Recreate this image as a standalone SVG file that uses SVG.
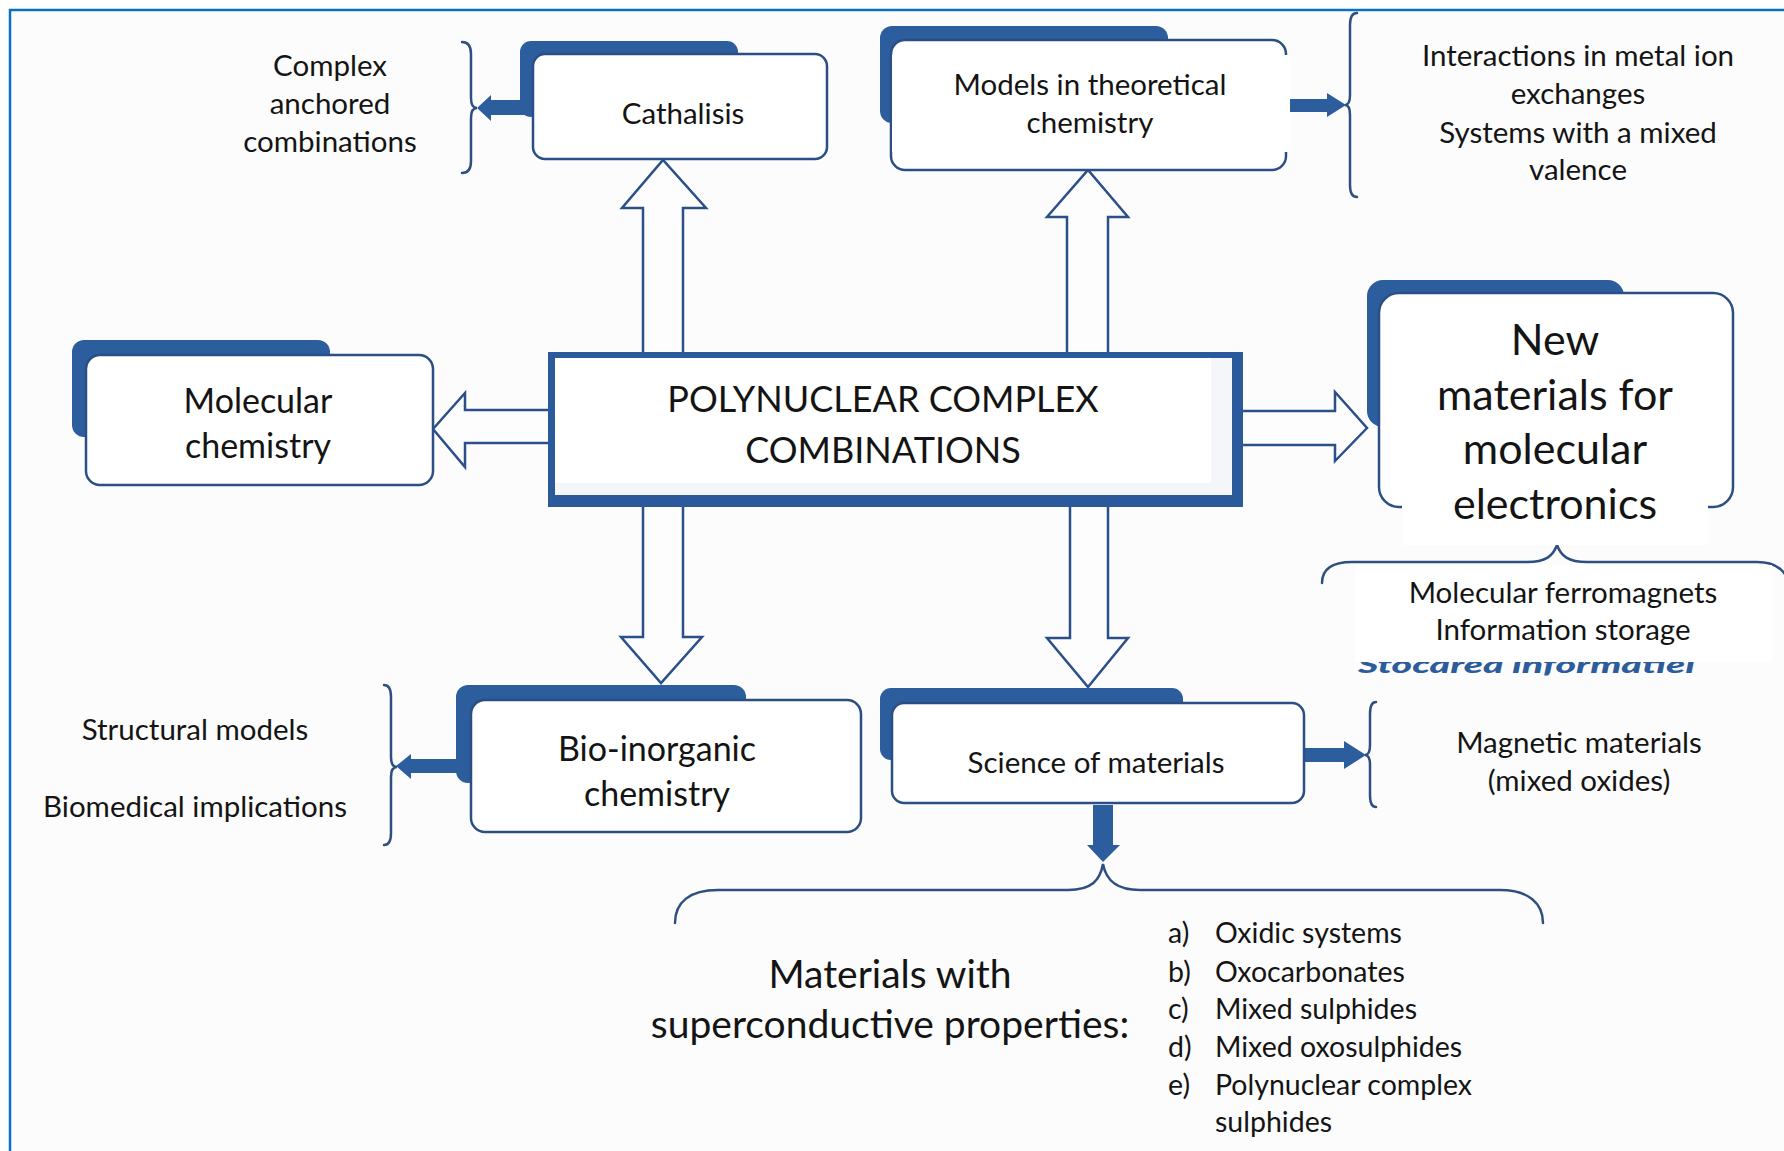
<svg xmlns="http://www.w3.org/2000/svg" width="1784" height="1151" viewBox="0 0 1784 1151">
<style>
.t{font-family:Lato,"Liberation Sans",sans-serif;fill:#141414;text-anchor:middle}
.s{font-size:29.5px}
.m{font-size:34px}
.box{fill:#fff;stroke:#2b4f84;stroke-width:2.5}
.sh{fill:#2c5d9c}
.ov{fill:#fff}
.hol{fill:#fdfdfe;stroke:#2b5089;stroke-width:2.5;stroke-linejoin:miter}
.sol{fill:#2c5d9c}
.br{fill:none;stroke:#2e4f80;stroke-width:2.5;stroke-linecap:round}
</style>
<rect x="0" y="0" width="1784" height="1151" fill="#fff"/>
<rect x="10" y="10" width="1774" height="1141" fill="#fcfcfd"/>
<path d="M10,1151 V10 H1784" fill="none" stroke="#0b6fc4" stroke-width="2.5"/>

<g id="connectors">
  <path class="hol" d="M643,353 V208 H622 L663,160 L706,208 H683 V353"/>
  <path class="hol" d="M1067,353 V217 H1047 L1088,170 L1128,217 H1108 V353"/>
  <path class="hol" d="M643,506 V637 H621 L661,683 L702,637 H683 V506"/>
  <path class="hol" d="M1070,506 V638 H1047 L1088,687 L1128,638 H1108 V506"/>
  <path class="hol" d="M549,410 H465 V393 L433,429 L465,467 V443 H549"/>
  <path class="hol" d="M1242,411 H1335 V392 L1367,428 L1335,461 V445 H1242"/>
  <path class="sol" d="M534,100 H491 V95 L477,108 L491,121 V115 H534 Z"/>
  <path class="sol" d="M1286,99 H1327 V93 L1346,105 L1327,117 V112 H1286 Z"/>
  <path class="sol" d="M472,759 H411 V754 L396,766 L411,779 V773 H472 Z"/>
  <path class="sol" d="M1304,748 H1344 V741 L1366,755 L1344,769 V762 H1304 Z"/>
  <path class="sol" d="M1093,805 V845 H1087 L1103,862 L1120,845 H1113 V805 Z"/>
  <path class="br" d="M462,42 Q471,42 471,54 V98 Q471,108 477,108 Q471,108 471,118 V161 Q471,173 462,173"/>
  <path class="br" d="M1357,13 Q1350,13 1350,25 V95 Q1350,105 1345,105 Q1350,105 1350,115 V185 Q1350,197 1357,197"/>
  <path class="br" d="M384,685 Q391,685 391,697 V757 Q391,767 397,767 Q391,767 391,777 V833 Q391,845 384,845"/>
  <path class="br" d="M1376,702 Q1370,702 1370,714 V745 Q1370,755 1365,755 Q1370,755 1370,765 V795 Q1370,807 1376,807"/>
  <path class="br" d="M1322,583 C1322,569 1332,562 1352,562 L1527,562 C1546,562 1553,556 1557,545 C1561,556 1568,562 1587,562 L1757,562 C1772,562 1781,567 1786,576"/>
  <path class="br" d="M675,923 C675,902 690,890 718,890 L1068,890 C1092,890 1100,880 1103,864 C1106,880 1116,890 1140,890 L1500,890 C1528,890 1543,903 1543,923"/>
</g>

<g id="cathalisis">
  <rect class="sh" x="520" y="41" width="218" height="76" rx="11"/>
  <rect class="box" x="533" y="54" width="294" height="105" rx="12"/>
  <text class="t s" x="683" y="124">Cathalisis</text>
</g>

<g id="complex-anchored">
  <text class="t s" x="330" y="76">Complex</text>
  <text class="t s" x="330" y="114">anchored</text>
  <text class="t s" x="330" y="152">combinations</text>
</g>

<g id="models">
  <rect class="sh" x="880" y="26" width="288" height="97" rx="12"/>
  <rect class="box" x="891" y="40" width="395" height="130" rx="14"/>
  <rect class="ov" x="892" y="55" width="398" height="97"/>
  <text class="t s" x="1090" y="95">Models in theoretical</text>
  <text class="t s" x="1090" y="133">chemistry</text>
</g>

<g id="interactions">
  <text class="t s" x="1578" y="66">Interactions in metal ion</text>
  <text class="t s" x="1578" y="104">exchanges</text>
  <text class="t s" x="1578" y="143">Systems with a mixed</text>
  <text class="t s" x="1578" y="180">valence</text>
</g>

<g id="central">
  <rect x="548" y="352" width="695" height="155" fill="#2a5a9b"/>
  <rect x="555" y="358" width="677" height="137" fill="#f4f6f9"/>
  <rect class="ov" x="555" y="358" width="656" height="125"/>
  <text class="t" x="883" y="412" font-size="36">POLYNUCLEAR COMPLEX</text>
  <text class="t" x="883" y="463" font-size="36">COMBINATIONS</text>
</g>

<g id="molecular-chemistry">
  <rect class="sh" x="72" y="340" width="258" height="97" rx="12"/>
  <rect class="box" x="86" y="355" width="347" height="130" rx="14"/>
  <text class="t m" x="258" y="413">Molecular</text>
  <text class="t m" x="258" y="458">chemistry</text>
</g>

<g id="new-materials">
  <rect class="sh" x="1367" y="280" width="257" height="147" rx="16"/>
  <rect class="box" x="1379" y="293" width="354" height="214" rx="20"/>
  <rect class="ov" x="1402" y="303" width="306" height="242"/>
  <text class="t" x="1555" y="355" font-size="43">New</text>
  <text class="t" x="1555" y="410" font-size="43">materials for</text>
  <text class="t" x="1555" y="464" font-size="43">molecular</text>
  <text class="t" x="1555" y="519" font-size="43">electronics</text>
</g>

<g id="ferromagnets">
  <text x="1358" y="673" font-family="Lato,'Liberation Sans',sans-serif" font-size="22" font-weight="900" font-style="italic" fill="#2c5c9c" textLength="337" lengthAdjust="spacingAndGlyphs">Stocarea informatiei</text>
  <rect class="ov" x="1355" y="565" width="417" height="97"/>
  <text class="t s" x="1563" y="603">Molecular ferromagnets</text>
  <text class="t s" x="1563" y="640">Information storage</text>
</g>

<g id="bio-inorganic">
  <rect class="sh" x="456" y="685" width="290" height="98" rx="12"/>
  <rect class="box" x="471" y="700" width="390" height="132" rx="14"/>
  <text class="t m" x="657" y="761">Bio-inorganic</text>
  <text class="t m" x="657" y="806">chemistry</text>
</g>

<g id="structural">
  <text class="t s" x="195" y="740">Structural models</text>
  <text class="t s" x="195" y="817">Biomedical implications</text>
</g>

<g id="science-materials">
  <rect class="sh" x="880" y="688" width="303" height="72" rx="11"/>
  <rect class="box" x="892" y="703" width="412" height="100" rx="12"/>
  <text class="t s" x="1096" y="773">Science of materials</text>
</g>

<g id="magnetic">
  <text class="t s" x="1579" y="753">Magnetic materials</text>
  <text class="t s" x="1579" y="791">(mixed oxides)</text>
</g>

<g id="superconductive">
  <text class="t" x="890" y="988" font-size="39">Materials with</text>
  <text class="t" x="890" y="1038" font-size="39">superconductive properties:</text>
</g>

<g id="list" font-family="Lato,'Liberation Sans',sans-serif" font-size="28.5" fill="#141414">
  <text x="1168" y="943">a)</text><text x="1215" y="943">Oxidic systems</text>
  <text x="1168" y="982">b)</text><text x="1215" y="982">Oxocarbonates</text>
  <text x="1168" y="1019">c)</text><text x="1215" y="1019">Mixed sulphides</text>
  <text x="1168" y="1057">d)</text><text x="1215" y="1057">Mixed oxosulphides</text>
  <text x="1168" y="1095">e)</text><text x="1215" y="1095">Polynuclear complex</text>
  <text x="1215" y="1132">sulphides</text>
</g>
</svg>
